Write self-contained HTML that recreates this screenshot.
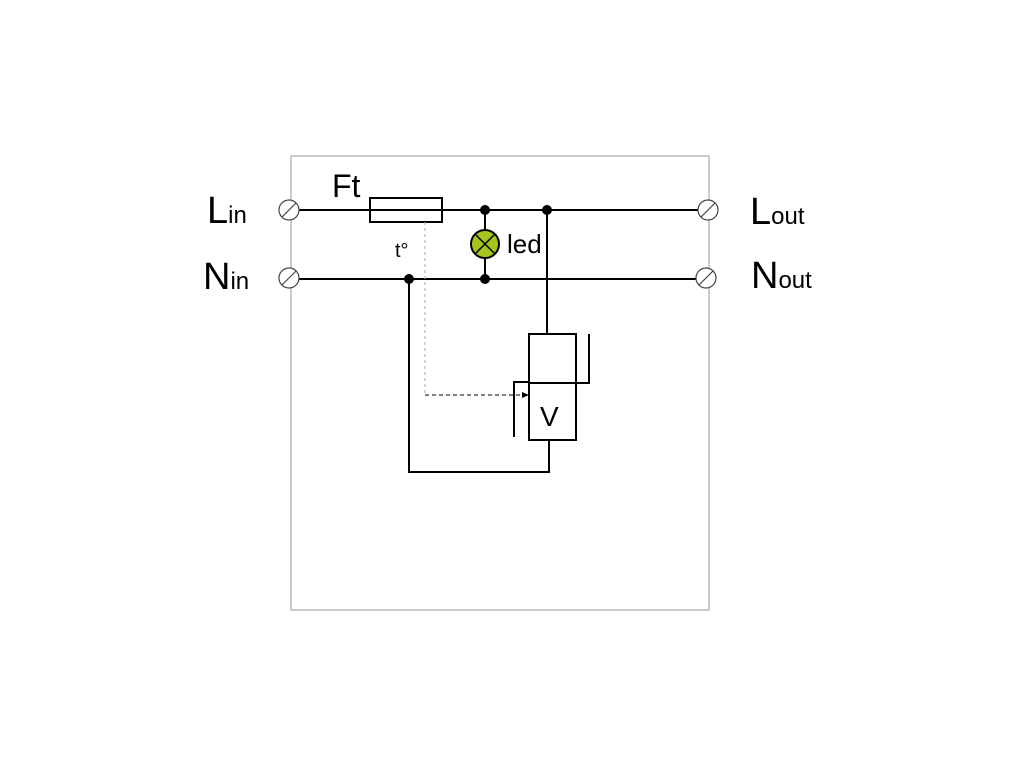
<!DOCTYPE html>
<html><head><style>body{margin:0;background:#fff}</style></head><body>
<svg width="1024" height="768" xmlns="http://www.w3.org/2000/svg" font-family="Liberation Sans, sans-serif">
<rect x="291" y="156" width="418" height="454" fill="none" stroke="#999" stroke-width="1"/>
<g stroke="#000" stroke-width="2" fill="none">
<line x1="299" y1="210" x2="698" y2="210"/>
<line x1="299" y1="279" x2="696" y2="279"/>
<rect x="370" y="198" width="72" height="24" fill="none"/>
<line x1="485" y1="210" x2="485" y2="279"/>
<line x1="547" y1="210" x2="547" y2="334"/>
<polyline points="409,279 409,472 549,472 549,440"/>
<rect x="529" y="334" width="47" height="106" fill="#fff"/>
<line x1="529" y1="383" x2="576" y2="383"/>
<polyline points="589,334 589,383 576,383"/>
<polyline points="514,437 514,382 529,382"/>
</g>
<line x1="425" y1="222" x2="425" y2="395" stroke="#aaa" stroke-width="1" stroke-dasharray="3,3"/>
<line x1="425" y1="395" x2="524" y2="395" stroke="#000" stroke-width="1" stroke-dasharray="4,3"/>
<polygon points="529,395 522,392 522,398" fill="#000"/>
<circle cx="485" cy="244" r="14" fill="#a6c51c" stroke="#000" stroke-width="2"/>
<line x1="475" y1="234" x2="495" y2="254" stroke="#000" stroke-width="1.5"/>
<line x1="495" y1="234" x2="475" y2="254" stroke="#000" stroke-width="1.5"/>
<g fill="#000"><circle cx="485" cy="210" r="5"/><circle cx="547" cy="210" r="5"/><circle cx="485" cy="279" r="5"/><circle cx="409" cy="279" r="5"/></g>
<g stroke="#444" stroke-width="1.2" fill="#fff">
<circle cx="289" cy="210" r="10"/><line x1="282" y1="217" x2="296" y2="203"/>
<circle cx="289" cy="278" r="10"/><line x1="282" y1="285" x2="296" y2="271"/>
<circle cx="708" cy="210" r="10"/><line x1="701" y1="217" x2="715" y2="203"/>
<circle cx="706" cy="278" r="10"/><line x1="699" y1="285" x2="713" y2="271"/>
</g>
<g fill="#000">
<text x="207" y="223" font-size="38">L<tspan font-size="24">in</tspan></text>
<text x="203" y="289" font-size="38">N<tspan font-size="24">in</tspan></text>
<text x="750" y="224" font-size="38">L<tspan font-size="24">out</tspan></text>
<text x="751" y="288" font-size="38">N<tspan font-size="24">out</tspan></text>
<text x="332" y="197" font-size="32">Ft</text>
<text x="507" y="253" font-size="26">led</text>
<text x="395" y="257" font-size="20">t°</text>
<text x="540" y="426" font-size="28">V</text>
</g>
</svg>
</body></html>
